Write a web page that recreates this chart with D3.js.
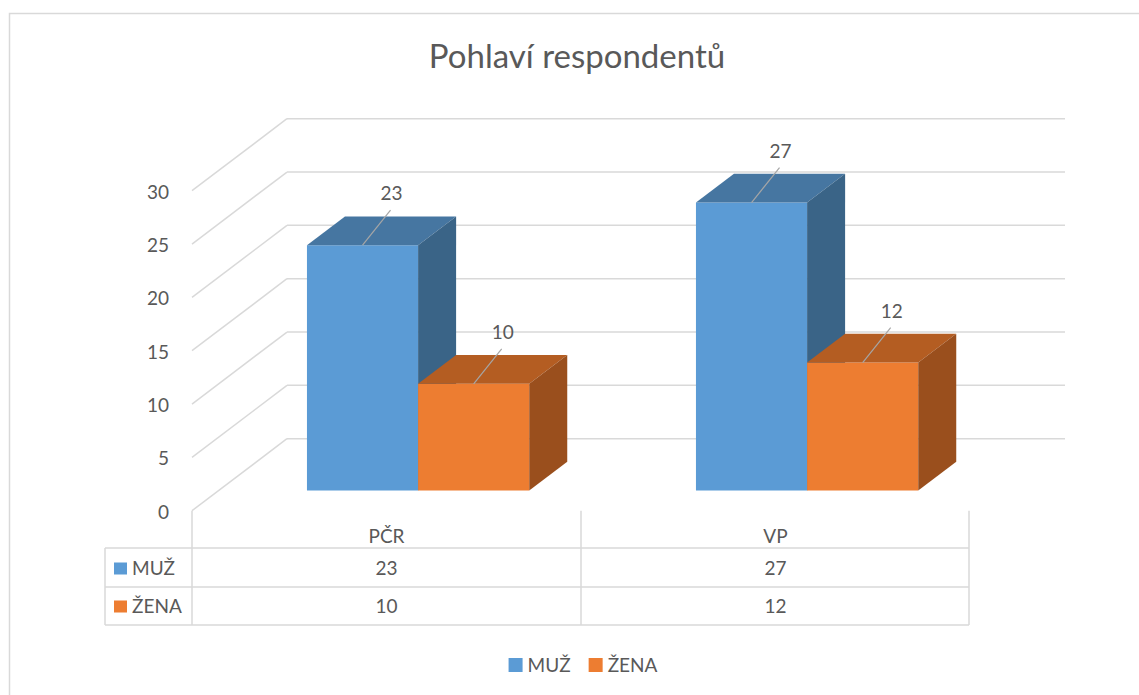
<!DOCTYPE html>
<html>
<head>
<meta charset="utf-8">
<script src="https://cdn.jsdelivr.net/npm/d3@7"></script>
<style>
  body { margin: 0; background: #fff; }
  text { font-family: Lato, "Open Sans", sans-serif; fill: #595959; }
</style>
</head>
<body>
<div id="chart"></div>
<script>
var width = 1139, height = 695;

// data
var categories = ["PČR", "VP"];
var seriesNames = ["MUŽ", "ŽENA"];
var muz = [23, 27];
var zena = [10, 12];
var yTicks = [0, 5, 10, 15, 20, 25, 30];
var title = "Pohlaví respondentů";

var frontColors = ["#5B9BD5", "#ED7D31"];
var topColors = ["#4676A1", "#B45D22"];
var sideColors = ["#3A6487", "#9A4F1D"];

var values = [muz, zena];

var svg = d3.select("#chart").append("svg")
    .attr("width", width)
    .attr("height", height);

// outer chart border
svg.append("rect")
    .attr("x", 9.5).attr("y", 13.5)
    .attr("width", 1200).attr("height", 800)
    .attr("fill", "none").attr("stroke", "#D9D9D9").attr("stroke-width", 1.5);

// title
svg.append("text")
    .attr("x", 577).attr("y", 68)
    .attr("text-anchor", "middle")
    .style("font-size", "33px")
    .text(title);

// scales - front plane
var x = d3.scaleBand().domain(categories).range([192, 970]);
var xSub = d3.scaleBand().domain(seriesNames).range([0, x.bandwidth()]).paddingOuter(0.75).align(0.53);
var y = d3.scaleLinear().domain([0, 30]).range([510.7, 190.7]);

// depth of the 3d box
var DX = 95, DY = 72;
var f0 = 0.28, f1 = 0.68;
function p(px, v, f) { return [px + f * DX, y(v) - f * DY]; }

var grid = svg.append("g").attr("stroke", "#D9D9D9").attr("stroke-width", 1.5).attr("fill", "none");

// back wall gridlines
grid.selectAll(".back").data(yTicks).enter().append("line")
    .attr("x1", function(d) { return p(x.range()[0], d, 1)[0]; })
    .attr("x2", function(d) { return p(x.range()[1], d, 1)[0]; })
    .attr("y1", function(d) { return p(0, d, 1)[1]; })
    .attr("y2", function(d) { return p(0, d, 1)[1]; });

// side wall gridlines
grid.selectAll(".side").data(yTicks).enter().append("line")
    .attr("x1", function(d) { return p(x.range()[0], d, 0)[0]; })
    .attr("y1", function(d) { return p(0, d, 0)[1]; })
    .attr("x2", function(d) { return p(x.range()[0], d, 1)[0]; })
    .attr("y2", function(d) { return p(0, d, 1)[1]; });

// y axis labels
svg.selectAll(".ylab").data(yTicks).enter().append("text")
    .attr("x", 169).attr("y", function(d) { return y(d) + 8; })
    .attr("text-anchor", "end")
    .style("font-size", "19px")
    .text(function(d) { return d; });

// bars
var bars = [];
categories.forEach(function(c, ci) {
  seriesNames.forEach(function(s, si) {
    bars.push({cat: c, s: si, v: values[si][ci]});
  });
});

function poly(pts) { return pts.map(function(q) { return q.join(","); }).join(" "); }

var barG = svg.append("g");
bars.forEach(function(b) {
  var x0 = x(b.cat) + xSub(seriesNames[b.s]);
  var x1 = x0 + xSub.bandwidth();
  barG.append("polygon")
      .attr("points", poly([p(x0, 0, f0), p(x1, 0, f0), p(x1, b.v, f0), p(x0, b.v, f0)]))
      .attr("fill", frontColors[b.s]);
  barG.append("polygon")
      .attr("points", poly([p(x0, b.v, f0), p(x1, b.v, f0), p(x1, b.v, f1), p(x0, b.v, f1)]))
      .attr("fill", topColors[b.s]);
  barG.append("polygon")
      .attr("points", poly([p(x1, 0, f0), p(x1, 0, f1), p(x1, b.v, f1), p(x1, b.v, f0)]))
      .attr("fill", sideColors[b.s]);

  // data label with leader line
  var top = p((x0 + x1) / 2, b.v, f0);
  svg.append("line")
      .attr("x1", top[0]).attr("y1", top[1])
      .attr("x2", top[0] + 28).attr("y2", top[1] - 35)
      .attr("stroke", "#A6A6A6").attr("stroke-width", 1.2);
  svg.append("text")
      .attr("x", top[0] + 29).attr("y", top[1] - 45)
      .attr("text-anchor", "middle")
      .style("font-size", "19px")
      .text(b.v);
});

// data table
var tableLeft = 105, tableRight = x.range()[1] - 1;
var rowY = [548, 587, 625];
var tg = svg.append("g").attr("stroke", "#D9D9D9").attr("stroke-width", 1.5);
[x.range()[0], x(categories[1]), tableRight].forEach(function(vx) {
  tg.append("line").attr("x1", vx).attr("x2", vx).attr("y1", y(0)).attr("y2", rowY[2]);
});
tg.append("line").attr("x1", tableLeft).attr("x2", tableLeft).attr("y1", rowY[0]).attr("y2", rowY[2]);
rowY.forEach(function(ry) {
  tg.append("line").attr("x1", tableLeft).attr("x2", tableRight).attr("y1", ry).attr("y2", ry);
});

svg.selectAll(".cat").data(categories).enter().append("text")
    .attr("x", function(d) { return x(d) + x.bandwidth() / 2; })
    .attr("y", 543)
    .attr("text-anchor", "middle")
    .style("font-size", "19px")
    .text(function(d) { return d; });

var rowBase = [574.5, 612.5];
seriesNames.forEach(function(s, si) {
  svg.append("rect")
      .attr("x", 114).attr("y", rowBase[si] - 12)
      .attr("width", 13).attr("height", 12)
      .attr("fill", frontColors[si]);
  svg.append("text")
      .attr("x", 132).attr("y", rowBase[si])
      .style("font-size", "19px")
      .text(s);
  categories.forEach(function(c, ci) {
    svg.append("text")
        .attr("x", x(c) + x.bandwidth() / 2)
        .attr("y", rowBase[si])
        .attr("text-anchor", "middle")
        .style("font-size", "19px")
        .text(values[si][ci]);
  });
});

// legend
var legend = svg.append("g");
var lx = 0;
seriesNames.forEach(function(s, si) {
  legend.append("rect")
      .attr("x", lx).attr("y", -14)
      .attr("width", 14).attr("height", 14)
      .attr("fill", frontColors[si]);
  var t = legend.append("text")
      .attr("x", lx + 19).attr("y", 0)
      .style("font-size", "19px")
      .text(s);
  lx += 19 + t.node().getComputedTextLength() + 18;
});
var legendW = lx - 18;
legend.attr("transform", "translate(" + (583 - legendW / 2) + ",672)");
</script>
</body>
</html>
